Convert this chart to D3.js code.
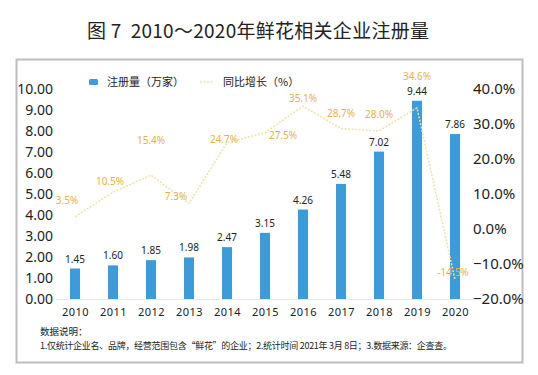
<!DOCTYPE html>
<html><head><meta charset="utf-8">
<script src="https://cdn.jsdelivr.net/npm/d3@7/dist/d3.min.js"></script>
<style>body{margin:0;background:#fff}svg{display:block}</style>
</head><body>
<svg id="c" width="538" height="375"></svg>
<script>
const years = ["2010","2011","2012","2013","2014","2015","2016","2017","2018","2019","2020"];
const registrations = [1.45,1.60,1.85,1.98,2.47,3.15,4.26,5.48,7.02,9.44,7.86];
const growth = [3.5,10.5,15.4,7.3,24.7,27.5,35.1,28.7,28.0,34.6,-14.5];
const leftTicks = [0,1,2,3,4,5,6,7,8,9,10];
const rightTicks = [-20,-10,0,10,20,30,40];
const title = "图 7\u00a0\u00a02010～2020年鲜花相关企业注册量";
const legendLabels = ["注册量（万家）","同比增长（%）"];
const notes = ["数据说明：","1.仅统计企业名、品牌，经营范围包含“鲜花”的企业；2.统计时间 2021年 3月 8日；3.数据来源：企查查。"];

// label placement (layout only)
const growthLabelOffsets = [[-8,-16],[-3,-11],[0,-35],[-13,-7],[-3,-3],[18,3],[0,-8],[0,-15],[0,-17],[0,-31],[-2,-7]];

const svg = d3.select("#c");
const CJK = "'Noto Sans CJK SC','Noto Sans',sans-serif";
const blue = "#3d9bd9", gold = "#e3b24a", lineCol = "#f0e0a8";

svg.append("text").attr("x",87).attr("y",38)
  .attr("font-family",CJK).attr("font-size",19).attr("fill","#222")
  .attr("textLength",342).attr("lengthAdjust","spacing").text(title);

// frame
svg.append("rect").attr("x",16.5).attr("y",59.5).attr("width",506).attr("height",303)
  .attr("fill","#fff").attr("stroke","#bdbdbd").attr("stroke-width",2);

const x = d3.scalePoint().domain(years).range([56,474]).padding(0.5);
const yL = d3.scaleLinear().domain([0,10]).range([299,89]);
const yR = d3.scaleLinear().domain([-20,40]).range([299,89]);
const barW = 10;

// axis baseline
svg.append("line").attr("x1",56).attr("x2",474).attr("y1",yL(0)+0.5).attr("y2",yL(0)+0.5)
  .attr("stroke","#e6e6e6");

// left axis
const gl = svg.append("g").attr("transform","translate(53,0)")
  .call(d3.axisLeft(yL).tickValues(leftTicks).tickFormat(d3.format(".2f")).tickSize(0).tickPadding(0));
gl.select(".domain").remove();
gl.selectAll("text").attr("font-family","'Noto Sans',sans-serif").attr("font-size",14).attr("fill","#222");

// right axis
const gr = svg.append("g").attr("transform","translate(473,0)")
  .call(d3.axisRight(yR).tickValues(rightTicks).tickFormat(d=>d3.format(".1f")(d)+"%").tickSize(0).tickPadding(0));
gr.select(".domain").remove();
gr.selectAll("text").attr("font-family","'Noto Sans',sans-serif").attr("font-size",15).attr("fill","#222");

// x axis
const gx = svg.append("g").attr("transform",`translate(0,${yL(0)+9})`)
  .call(d3.axisBottom(x).tickSize(0).tickPadding(0));
gx.select(".domain").remove();
gx.selectAll("text").attr("font-family","'Noto Sans',sans-serif").attr("font-size",11).attr("fill","#222").attr("letter-spacing",0.5);

// bars
svg.append("g").selectAll("rect").data(registrations).join("rect")
  .attr("x",(d,i)=>x(years[i])-barW/2).attr("width",barW)
  .attr("y",d=>yL(d)).attr("height",d=>yL(0)-yL(d)).attr("fill",blue);
svg.append("g").selectAll("text").data(registrations).join("text")
  .attr("x",(d,i)=>x(years[i])).attr("y",d=>yL(d)-6).attr("text-anchor","middle")
  .attr("font-family","'Noto Sans',sans-serif").attr("font-size",10).attr("fill","#222")
  .text(d=>d3.format(".2f")(d));

// growth line
const line = d3.line().x((d,i)=>x(years[i])).y(d=>yR(d));
svg.append("path").datum(growth).attr("d",line).attr("fill","none")
  .attr("stroke",lineCol).attr("stroke-width",1.5).attr("stroke-dasharray","2,1.5");
svg.append("g").selectAll("text").data(growth).join("text")
  .attr("x",(d,i)=>x(years[i])+growthLabelOffsets[i][0])
  .attr("y",(d,i)=>yR(d)+growthLabelOffsets[i][1]+3.5).attr("text-anchor","middle")
  .attr("font-family","'Noto Sans',sans-serif").attr("font-size",10).attr("fill",gold)
  .text(d=>d.toFixed(1)+"%");

// legend
svg.append("rect").attr("x",89).attr("y",79).attr("width",9).attr("height",6).attr("rx",1.5).attr("fill",blue);
svg.append("text").attr("x",107).attr("y",86).attr("font-family",CJK).attr("font-size",11).attr("fill","#222").text(legendLabels[0]);
svg.append("line").attr("x1",200).attr("x2",214).attr("y1",82).attr("y2",82)
  .attr("stroke",lineCol).attr("stroke-width",1.5).attr("stroke-dasharray","2,1.5");
svg.append("text").attr("x",223).attr("y",86).attr("font-family",CJK).attr("font-size",11).attr("fill","#222").text(legendLabels[1]);

// notes
svg.append("text").attr("x",40).attr("y",335).attr("font-family",CJK).attr("font-size",9.5).attr("fill","#222").text(notes[0]);
svg.append("text").attr("x",40).attr("y",349).attr("font-family",CJK).attr("font-size",9).attr("fill","#222")
  .attr("textLength",412).attr("lengthAdjust","spacing").text(notes[1]);
</script>
</body></html>
